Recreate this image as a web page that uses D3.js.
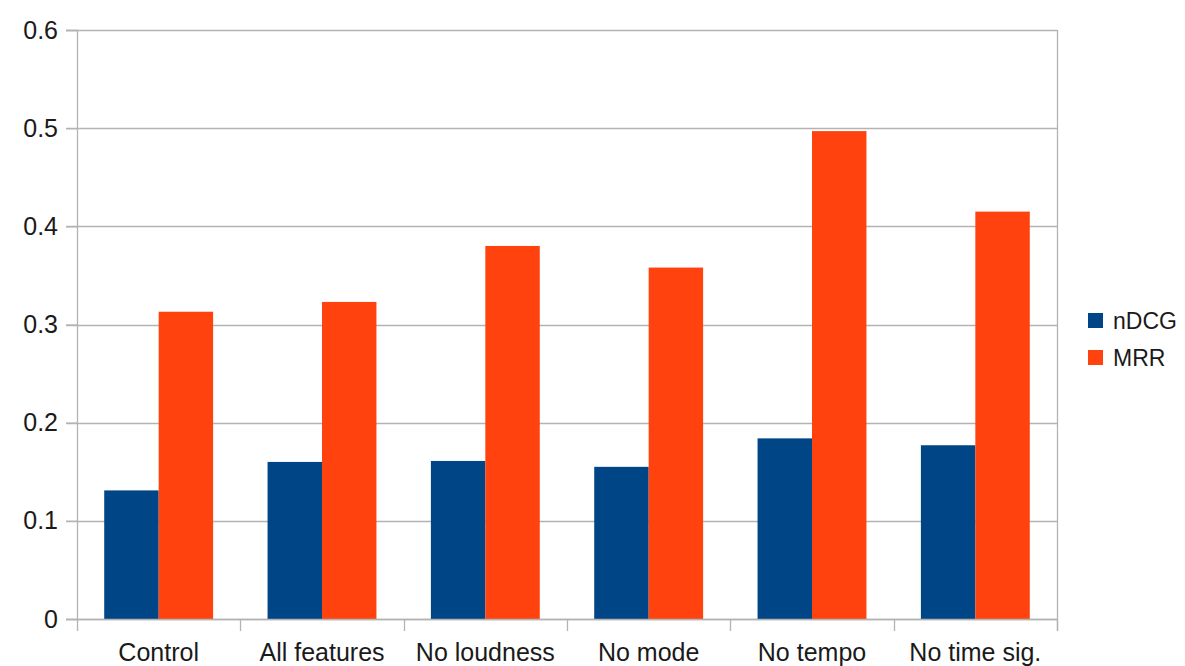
<!DOCTYPE html>
<html>
<head>
<meta charset="utf-8">
<style>
  body { margin: 0; background: #fff; }
  svg text { font-family: "Liberation Sans", Arial, sans-serif; fill: #1a1a1a; }
</style>
</head>
<body>
<div id="chart"></div>
<script src="https://d3js.org/d3.v7.min.js"></script>
<script>
    const categories = ['Control', 'All features', 'No loudness', 'No mode', 'No tempo', 'No time sig.'];
    const seriesNames = ['nDCG', 'MRR'];
    const ndcgValues = [0.131, 0.160, 0.161, 0.155, 0.184, 0.177];
    const mrrValues = [0.313, 0.323, 0.380, 0.358, 0.497, 0.415];
    const yTicks = [0, 0.1, 0.2, 0.3, 0.4, 0.5, 0.6];

    const colors = { nDCG: '#004586', MRR: '#ff420e' };
    const rows = categories.map((c, i) => ({ cat: c, nDCG: ndcgValues[i], MRR: mrrValues[i] }));

    const svg = d3.select('#chart')
        .append('svg')
        .attr('width', 1185)
        .attr('height', 666);

    const plot = { left: 77, right: 1057, top: 30, bottom: 619 };

    const x0 = d3.scaleBand()
        .domain(categories)
        .range([plot.left, plot.right])
        .padding(0);

    const x1 = d3.scaleBand()
        .domain(seriesNames)
        .range([0, x0.bandwidth()])
        .paddingInner(0)
        .paddingOuter(0.5);

    const y = d3.scaleLinear()
        .domain([0, 0.6])
        .range([plot.bottom, plot.top]);

    // gridlines
    svg.append('g')
        .selectAll('line')
        .data(yTicks)
        .enter()
        .append('line')
        .attr('x1', plot.left - 11)
        .attr('x2', plot.right)
        .attr('y1', d => Math.round(y(d)) + 0.5)
        .attr('y2', d => Math.round(y(d)) + 0.5)
        .attr('stroke', '#b3b3b3')
        .attr('stroke-width', 1.3);

    // right border
    svg.append('line')
        .attr('x1', plot.right + 0.5).attr('x2', plot.right + 0.5)
        .attr('y1', plot.top).attr('y2', plot.bottom + 12)
        .attr('stroke', '#b3b3b3').attr('stroke-width', 1.3);

    // bars
    const groups = svg.append('g')
        .selectAll('g')
        .data(rows)
        .enter()
        .append('g')
        .attr('transform', d => `translate(${x0(d.cat)},0)`);

    groups.selectAll('rect')
        .data(d => seriesNames.map(s => ({ key: s, value: d[s] })))
        .enter()
        .append('rect')
        .attr('x', d => x1(d.key))
        .attr('width', x1.bandwidth())
        .attr('y', d => y(d.value))
        .attr('height', d => y(0) - y(d.value))
        .attr('fill', d => colors[d.key]);

    // y axis
    const yAxis = svg.append('g')
        .attr('transform', `translate(${plot.left},0)`)
        .call(d3.axisLeft(y).tickValues(yTicks).tickSize(11).tickPadding(8)
            .tickFormat(d => d === 0 ? '0' : d3.format('.1f')(d)));
    yAxis.select('.domain').attr('stroke', '#b3b3b3').attr('stroke-width', 1.3);
    yAxis.selectAll('.tick line').attr('stroke', '#b3b3b3').attr('stroke-width', 1.3);
    yAxis.selectAll('text').attr('font-size', 25).attr('fill', '#1a1a1a')
        .style('font-family', '"Liberation Sans", Arial, sans-serif');

    // x axis: ticks at category boundaries, labels centred
    const xAxis = svg.append('g')
        .attr('transform', `translate(0,${plot.bottom})`);
    xAxis.append('line')
        .attr('x1', plot.left).attr('x2', plot.right)
        .attr('y1', 0.5).attr('y2', 0.5)
        .attr('stroke', '#b3b3b3').attr('stroke-width', 1.3);
    xAxis.selectAll('.bound')
        .data(categories.concat(['end']))
        .enter()
        .append('line')
        .attr('x1', (d, i) => Math.round(plot.left + i * x0.step()) + 0.5)
        .attr('x2', (d, i) => Math.round(plot.left + i * x0.step()) + 0.5)
        .attr('y1', 0).attr('y2', 12)
        .attr('stroke', '#b3b3b3').attr('stroke-width', 1.3);
    xAxis.selectAll('.xlabel')
        .data(categories)
        .enter()
        .append('text')
        .attr('x', d => x0(d) + x0.bandwidth() / 2)
        .attr('y', 42)
        .attr('text-anchor', 'middle')
        .attr('font-size', 25)
        .text(d => d);

    // legend
    const legend = svg.append('g')
        .attr('transform', 'translate(1088,313)');
    legend.selectAll('rect')
        .data(seriesNames)
        .enter()
        .append('rect')
        .attr('x', 0)
        .attr('y', (d, i) => i * 37)
        .attr('width', 15)
        .attr('height', 15)
        .attr('fill', d => colors[d]);
    legend.selectAll('text')
        .data(seriesNames)
        .enter()
        .append('text')
        .attr('x', 25)
        .attr('y', (d, i) => i * 37 + 16)
        .attr('font-size', 23)
        .text(d => d);
</script>
</body>
</html>
